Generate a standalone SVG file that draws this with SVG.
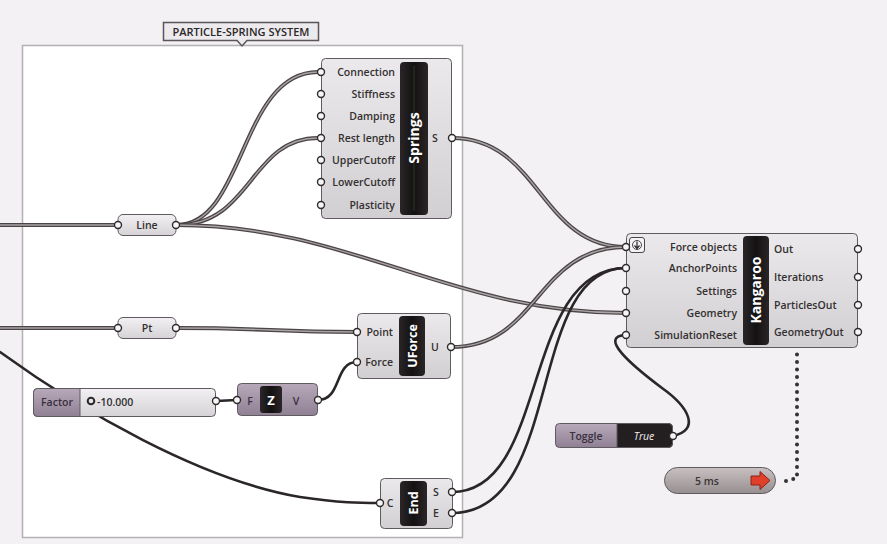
<svg xmlns="http://www.w3.org/2000/svg" width="887" height="544" viewBox="0 0 887 544">
  <defs>
    <linearGradient id="gBody" x1="0" y1="0" x2="0" y2="1">
      <stop offset="0" stop-color="#ebe9eb"/>
      <stop offset="1" stop-color="#d2cfd2"/>
    </linearGradient>
    <linearGradient id="gParam" x1="0" y1="0" x2="0" y2="1">
      <stop offset="0" stop-color="#f2f0f2"/>
      <stop offset="1" stop-color="#d6d3d6"/>
    </linearGradient>
    <linearGradient id="gPurple" x1="0" y1="0" x2="0" y2="1">
      <stop offset="0" stop-color="#b7a9ba"/>
      <stop offset="1" stop-color="#8f8093"/>
    </linearGradient>
    <linearGradient id="gTimer" x1="0" y1="0" x2="0" y2="1">
      <stop offset="0" stop-color="#c9c1c1"/>
      <stop offset="1" stop-color="#978e8f"/>
    </linearGradient>
    <linearGradient id="gBar" x1="0" y1="0" x2="1" y2="0">
      <stop offset="0" stop-color="#2a2627"/>
      <stop offset="0.5" stop-color="#141112"/>
      <stop offset="1" stop-color="#2a2627"/>
    </linearGradient>
    <!-- list wires: drawn twice (dark casing + light core) -->
    <path id="w-in-line" d="M0,225 L118,225"/>
    <path id="w-in-pt" d="M0,328 L118,328"/>
    <path id="w-line-conn" d="M177,225 C245,225 240,72 318,72"/>
    <path id="w-line-rest" d="M177,225 C252,225 250,138 318,138"/>
    <path id="w-line-geo" d="M177,225 C350,225 450,313 626,313"/>
    <path id="w-pt-point" d="M177,328 C270,328 270,332 357,332"/>
    <path id="w-s-force" d="M452,138 C540,138 540,247 626,247"/>
    <path id="w-u-force" d="M451,347 C540,347 535,247 626,247"/>
    <style>
      .body { fill: url(#gBody); stroke: #5f5a5f; stroke-width: 1; }
      .param { fill: url(#gParam); stroke: #5f5a5f; stroke-width: 1; }
      .bar { fill: url(#gBar); }
      .lbl { font-family: "Open Sans", "Noto Sans", sans-serif; font-size: 10.5px; font-weight: 600; fill: #333031; }
      .r { text-anchor: end; }
      .c { text-anchor: middle; }
      .nick { font-family: "Open Sans", "Noto Sans", sans-serif; font-weight: 700; fill: #ffffff; text-anchor: middle; }
      .grip { fill: #f6f6f6; stroke: #2f2b2c; stroke-width: 1.4; }
      .w2o { fill: none; stroke: #4a4446; stroke-width: 4; stroke-linecap: round; }
      .w2i { fill: none; stroke: #aaa3a5; stroke-width: 1.4; stroke-linecap: round; }
      .w1 { fill: none; stroke: #2b2728; stroke-width: 2.6; stroke-linecap: round; }
      .dots { fill: none; stroke: #333; stroke-width: 4; stroke-linecap: round; stroke-dasharray: 0 7.5; }
    </style>
  </defs>

  <!-- canvas -->
  <rect x="0" y="0" width="887" height="544" fill="#f3f1f3"/>

  <!-- group frame -->
  <g id="group-particle-spring">
    <rect x="22.5" y="45.5" width="440" height="492" fill="#ffffff" stroke="#b4b1b4" stroke-width="1.5"/>
    <path d="M163.5,22.5 H318.5 V40.5 H247 L242,46 L237,40.5 H163.5 Z" fill="#eceaec" stroke="#5a5659" stroke-width="1.5"/>
    <text x="241" y="35.5" class="lbl c" style="font-size:11px;font-weight:600;fill:#2a2728">PARTICLE-SPRING SYSTEM</text>
  </g>

  <!-- wires -->
  <g id="connectors">
    <use href="#w-in-line" class="w2o"/><use href="#w-in-line" class="w2i"/>
    <use href="#w-in-pt" class="w2o"/><use href="#w-in-pt" class="w2i"/>
    <use href="#w-line-conn" class="w2o"/><use href="#w-line-conn" class="w2i"/>
    <use href="#w-line-rest" class="w2o"/><use href="#w-line-rest" class="w2i"/>
    <use href="#w-line-geo" class="w2o"/><use href="#w-line-geo" class="w2i"/>
    <use href="#w-pt-point" class="w2o"/><use href="#w-pt-point" class="w2i"/>
    <use href="#w-s-force" class="w2o"/><use href="#w-s-force" class="w2i"/>
    <use href="#w-u-force" class="w2o"/><use href="#w-u-force" class="w2i"/>
    <!-- single item wires -->
    <path class="w1" d="M0,352 C80,410 200,480 300,497 C340,503 360,503 380,503"/>
    <path class="w1" d="M216,401 L237,400"/>
    <path class="w1" d="M318,400 C342,400 334,362 357,362"/>
    <path class="w1" d="M452,492 C550,492 520,268 626,268"/>
    <path class="w1" d="M452,513 C565,513 525,268 626,268"/>
    <path class="w1" d="M673,436 C700,430 690,408 662,388 C630,364 598,336 626,335"/>
    <!-- timer link -->
    <path class="dots" d="M786,481 L797,478 L797,350"/>
  </g>

  <!-- Line parameter -->
  <g id="line-param">
    <rect x="118" y="214.5" width="58" height="21" rx="5" class="param"/>
    <text x="147" y="229" class="lbl c">Line</text>
    <circle cx="118" cy="225" r="3.5" class="grip"/>
    <circle cx="176" cy="225" r="3.5" class="grip"/>
  </g>

  <!-- Pt parameter -->
  <g id="pt-param">
    <rect x="118" y="317.5" width="58" height="21" rx="5" class="param"/>
    <text x="147" y="332" class="lbl c">Pt</text>
    <circle cx="118" cy="328" r="3.5" class="grip"/>
    <circle cx="176" cy="328" r="3.5" class="grip"/>
  </g>

  <!-- Springs component -->
  <g id="springs">
    <rect x="321.5" y="58.5" width="130" height="160" rx="4" class="body"/>
    <rect x="400" y="62" width="28" height="153" rx="4" class="bar"/>
    <line x1="414" y1="66" x2="414" y2="211" stroke="#3d5a33" stroke-width="1" opacity="0.6"/>
    <text class="nick" font-size="14" transform="translate(419,138) rotate(-90)">Springs</text>
    <text x="395" y="76" class="lbl r">Connection</text>
    <text x="395" y="98" class="lbl r">Stiffness</text>
    <text x="395" y="120" class="lbl r">Damping</text>
    <text x="395" y="142" class="lbl r">Rest length</text>
    <text x="395" y="164" class="lbl r">UpperCutoff</text>
    <text x="395" y="186" class="lbl r">LowerCutoff</text>
    <text x="395" y="209" class="lbl r">Plasticity</text>
    <text x="435" y="142" class="lbl c">S</text>
    <circle cx="321" cy="72" r="3.5" class="grip"/>
    <circle cx="321" cy="94" r="3.5" class="grip"/>
    <circle cx="321" cy="116" r="3.5" class="grip"/>
    <circle cx="321" cy="138" r="3.5" class="grip"/>
    <circle cx="321" cy="160" r="3.5" class="grip"/>
    <circle cx="321" cy="182" r="3.5" class="grip"/>
    <circle cx="321" cy="205" r="3.5" class="grip"/>
    <circle cx="452" cy="138" r="3.5" class="grip"/>
  </g>

  <!-- UForce component -->
  <g id="uforce">
    <rect x="357.5" y="313.5" width="93" height="65" rx="4" class="body"/>
    <rect x="399" y="316" width="26" height="60" rx="4" class="bar"/>
    <text class="nick" font-size="12.5" transform="translate(416.5,346) rotate(-90)">UForce</text>
    <text x="393" y="336" class="lbl r">Point</text>
    <text x="393" y="366" class="lbl r">Force</text>
    <text x="435" y="351" class="lbl c">U</text>
    <circle cx="357" cy="332" r="3.5" class="grip"/>
    <circle cx="357" cy="362" r="3.5" class="grip"/>
    <circle cx="451" cy="347" r="3.5" class="grip"/>
  </g>

  <!-- Factor number slider -->
  <g id="factor-slider">
    <rect x="33.5" y="388.5" width="182" height="28" rx="4" fill="url(#gParam)" stroke="#5f5a5f"/>
    <path d="M37.5,388.5 H80 V416.5 H37.5 A4,4 0 0 1 33.5,412.5 V392.5 A4,4 0 0 1 37.5,388.5 Z" fill="url(#gPurple)" stroke="#5f5a5f"/>
    <text x="57" y="406" class="lbl c" style="fill:#3a3040">Factor</text>
    <circle cx="91" cy="401" r="3.3" fill="none" stroke="#2a2728" stroke-width="2"/>
    <text x="97" y="405.5" class="lbl">-10.000</text>
    <circle cx="216" cy="401" r="3.5" class="grip"/>
  </g>

  <!-- Unit Z vector -->
  <g id="unit-z">
    <rect x="237.5" y="383.5" width="80" height="32" rx="4" fill="url(#gPurple)" stroke="#5f5a5f"/>
    <rect x="260" y="386" width="22" height="27" rx="3" class="bar"/>
    <text x="271" y="405" class="nick" font-size="13">Z</text>
    <text x="250" y="404.5" class="lbl c" style="fill:#3a3040">F</text>
    <text x="296" y="404.5" class="lbl c" style="fill:#3a3040">V</text>
    <circle cx="237" cy="400" r="3.5" class="grip"/>
    <circle cx="318" cy="400" r="3.5" class="grip"/>
  </g>

  <!-- End points component -->
  <g id="end-points">
    <rect x="380.5" y="478.5" width="72" height="50" rx="4" class="body"/>
    <rect x="400" y="481" width="27" height="45" rx="4" class="bar"/>
    <text class="nick" font-size="12.5" transform="translate(418,503) rotate(-90)">End</text>
    <text x="390" y="507" class="lbl c">C</text>
    <text x="436" y="496" class="lbl c">S</text>
    <text x="436" y="517" class="lbl c">E</text>
    <circle cx="380" cy="503" r="3.5" class="grip"/>
    <circle cx="452" cy="492" r="3.5" class="grip"/>
    <circle cx="452" cy="513" r="3.5" class="grip"/>
  </g>

  <!-- Kangaroo solver -->
  <g id="kangaroo">
    <rect x="626.5" y="233.5" width="231" height="114" rx="4" class="body"/>
    <rect x="743" y="236" width="26" height="109" rx="4" class="bar"/>
    <text class="nick" font-size="14" transform="translate(761,290) rotate(-90)">Kangaroo</text>
    <rect x="629.5" y="237.5" width="15" height="15" rx="2.5" fill="#f4f2f4" stroke="#4a4648"/>
    <circle cx="637" cy="245" r="4.5" fill="none" stroke="#4a4648" stroke-width="1"/>
    <path d="M637,241.5 V248 M634.5,245.5 L637,248.5 L639.5,245.5" fill="none" stroke="#2a2728" stroke-width="1.2"/>
    <text x="737" y="251" class="lbl r">Force objects</text>
    <text x="737" y="272" class="lbl r">AnchorPoints</text>
    <text x="737" y="295" class="lbl r">Settings</text>
    <text x="737" y="317" class="lbl r">Geometry</text>
    <text x="737" y="339" class="lbl r">SimulationReset</text>
    <text x="774" y="253" class="lbl">Out</text>
    <text x="774" y="281" class="lbl">Iterations</text>
    <text x="774" y="309" class="lbl">ParticlesOut</text>
    <text x="774" y="336" class="lbl">GeometryOut</text>
    <circle cx="626" cy="247" r="3.5" class="grip"/>
    <circle cx="626" cy="268" r="3.5" class="grip"/>
    <circle cx="626" cy="291" r="3.5" class="grip"/>
    <circle cx="626" cy="313" r="3.5" class="grip"/>
    <circle cx="626" cy="335" r="3.5" class="grip"/>
    <circle cx="858" cy="249" r="3.5" class="grip"/>
    <circle cx="858" cy="277" r="3.5" class="grip"/>
    <circle cx="858" cy="305" r="3.5" class="grip"/>
    <circle cx="858" cy="332" r="3.5" class="grip"/>
  </g>

  <!-- Boolean toggle -->
  <g id="toggle">
    <rect x="555.5" y="423.5" width="117" height="24" rx="4" fill="url(#gPurple)" stroke="#5f5a5f"/>
    <path d="M617,423.5 H668.5 A4,4 0 0 1 672.5,427.5 V443.5 A4,4 0 0 1 668.5,447.5 H617 Z" fill="#231e20" stroke="#5f5a5f"/>
    <text x="586" y="439.5" class="lbl c" style="fill:#3a3040">Toggle</text>
    <text x="644" y="439.5" class="lbl c" style="fill:#f2eef0;font-style:italic;font-weight:400">True</text>
    <circle cx="673" cy="436" r="3.5" class="grip"/>
  </g>

  <!-- Timer -->
  <g id="timer">
    <rect x="664.5" y="467.5" width="111" height="26" rx="13" fill="url(#gTimer)" stroke="#5f5a5f"/>
    <text x="707" y="484.5" class="lbl c" style="fill:#3a3536">5 ms</text>
    <path d="M751,476 H760 V471.5 L770,480.5 L760,489.5 V485 H751 Z" fill="#e0402a" stroke="#8a2418" stroke-width="1"/>
  </g>
</svg>
